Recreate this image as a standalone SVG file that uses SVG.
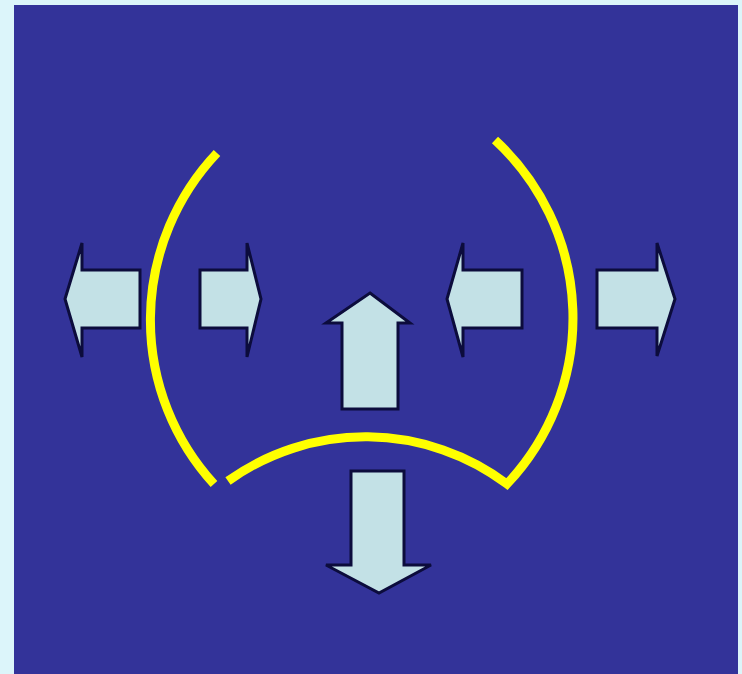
<svg xmlns="http://www.w3.org/2000/svg" width="742" height="674" viewBox="0 0 742 674">
<style>
.arrow{fill:#c3e1e6;stroke:#0c0c3c;stroke-width:3;stroke-linejoin:miter}
.arc{fill:none;stroke:#ffff00;stroke-width:9;stroke-linecap:butt;stroke-linejoin:miter}
</style>
<rect x="0" y="0" width="742" height="674" fill="#dcf5fa"/>
<rect x="14" y="5" width="724" height="669" fill="#333399"/>
<g id="arcs">
<path class="arc" d="M 217 153 A 243 243 0 0 0 214 484"/>
<path class="arc" d="M 228 481 A 236 236 0 0 1 507 484 A 242 242 0 0 0 495 140"/>
</g>
<g id="arrow-out-left"><polygon class="arrow" points="65,299 82,243 82,270 140,270 140,328 82,328 82,357"/></g>
<g id="arrow-in-left"><polygon class="arrow" points="200,270 247,270 247,243 261,299 247,357 247,328 200,328"/></g>
<g id="arrow-in-right"><polygon class="arrow" points="447,299 463,243 463,270 522,270 522,328 463,328 463,357"/></g>
<g id="arrow-out-right"><polygon class="arrow" points="597,270 657,270 657,243 675,299 657,356 657,328 597,328"/></g>
<g id="arrow-up"><polygon class="arrow" points="370,293 410,323 398,323 398,409 342,409 342,323 326,323"/></g>
<g id="arrow-down"><polygon class="arrow" points="351,471 404,471 404,565 431,565 379,593 326,565 351,565"/></g>
</svg>
